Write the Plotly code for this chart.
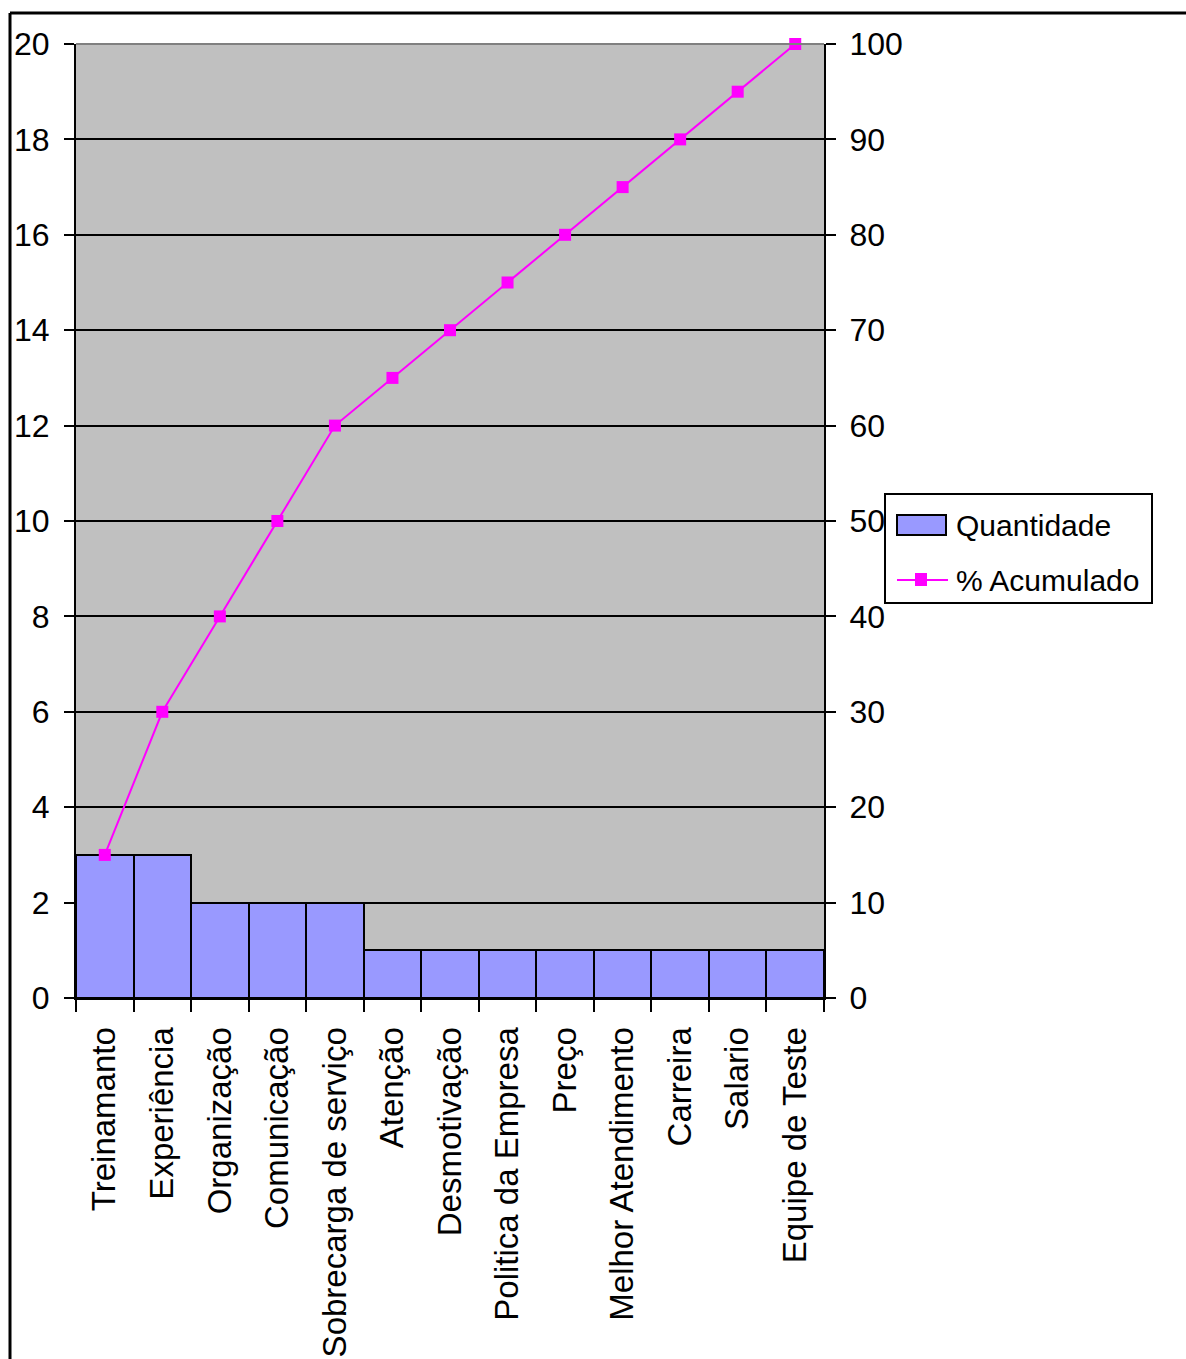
import plotly.graph_objects as go

# Pareto data: causes, counts and cumulative percentage
categorias = ["Treinamanto", "Experiência", "Organização", "Comunicação",
              "Sobrecarga de serviço", "Atenção", "Desmotivação",
              "Politica da Empresa", "Preço", "Melhor Atendimento",
              "Carreira", "Salario", "Equipe de Teste"]
quantidade = [3, 3, 2, 2, 2, 1, 1, 1, 1, 1, 1, 1, 1]
acumulado = [15, 30, 40, 50, 60, 65, 70, 75, 80, 85, 90, 95, 100]

left_ticks = list(range(0, 21, 2))
right_ticks = list(range(0, 101, 10))

W, H = 1186, 1359
L, R, T, B = 76, 824, 44, 998
pw, ph = R - L, B - T

BAR_COLOR = "#9999FF"
LINE_COLOR = "#FF00FF"


def px(x):
    return (x - L) / pw


def py(y):
    return (B - y) / ph


FONT = "Liberation Sans, Arial, sans-serif"

fig = go.Figure()
fig.add_trace(go.Bar(
    x=categorias, y=quantidade, name="Quantidade",
    marker=dict(color=BAR_COLOR, line=dict(color="black", width=2)),
    yaxis="y",
))
fig.add_trace(go.Scatter(
    x=categorias, y=acumulado, name="% Acumulado",
    mode="lines+markers",
    line=dict(color=LINE_COLOR, width=2),
    marker=dict(symbol="square", size=12, color=LINE_COLOR),
    cliponaxis=False,
    yaxis="y2",
))


def rect(x0, y0, x1, y1, fill, lc="black", lw=2):
    return dict(type="rect", xref="paper", yref="paper",
                x0=px(x0), x1=px(x1), y0=py(y0), y1=py(y1),
                fillcolor=fill, line=dict(color=lc, width=lw))


def seg(x0, y0, x1, y1, color, width):
    return dict(type="line", xref="paper", yref="paper",
                x0=px(x0), x1=px(x1), y0=py(y0), y1=py(y1),
                line=dict(color=color, width=width))


shapes = [
    # grey border along the top of the plot area
    seg(L, T, R, T, "#808080", 2),
    # outer chart frame (top and left edges)
    seg(10, 13, 1190, 13, "black", 3),
    seg(10, 13, 10, 1365, "black", 3),
    # legend box and its keys
    rect(885, 494, 1152, 603, "white"),
    rect(897, 515, 946, 535, BAR_COLOR),
    seg(897, 580, 948, 580, LINE_COLOR, 2),
    rect(915, 573, 927, 586, LINE_COLOR, LINE_COLOR, 0),
]

annotations = [
    dict(xref="paper", yref="paper", x=px(954), y=py(525), text="Quantidade",
         showarrow=False, xanchor="left", yanchor="middle",
         font=dict(size=30, family=FONT, color="black")),
    dict(xref="paper", yref="paper", x=px(954), y=py(580), text="% Acumulado",
         showarrow=False, xanchor="left", yanchor="middle",
         font=dict(size=30, family=FONT, color="black")),
]

fig.update_layout(
    width=W, height=H,
    margin=dict(l=L, r=W - R, t=T, b=H - B, pad=0, autoexpand=False),
    paper_bgcolor="white", plot_bgcolor="#C0C0C0",
    bargap=0,
    font=dict(family=FONT, color="black"),
    showlegend=False,
    xaxis=dict(
        type="category", range=[-0.5, len(categorias) - 0.5],
        automargin=False,
        showgrid=False, showline=True, linecolor="black", linewidth=2,
        ticks="outside", tickson="boundaries", ticklen=12, tickwidth=2,
        tickcolor="black", tickangle=-90, tickfont=dict(size=33),
        ticklabelstandoff=14,
    ),
    yaxis=dict(
        range=[0, 20], tickvals=left_ticks, showgrid=True, automargin=False,
        gridcolor="black", gridwidth=2, zeroline=False,
        showline=True, linecolor="black", linewidth=2,
        ticks="outside", ticklen=10, tickwidth=2, tickcolor="black",
        tickfont=dict(size=32), ticklabelstandoff=8,
    ),
    yaxis2=dict(
        range=[0, 100], tickvals=right_ticks, overlaying="y", side="right",
        showgrid=False, zeroline=False, automargin=False,
        showline=True, linecolor="black", linewidth=2,
        ticks="outside", ticklen=10, tickwidth=2, tickcolor="black",
        tickfont=dict(size=32), ticklabelstandoff=7,
    ),
    shapes=shapes,
    annotations=annotations,
)

fig.write_html("out.html")
